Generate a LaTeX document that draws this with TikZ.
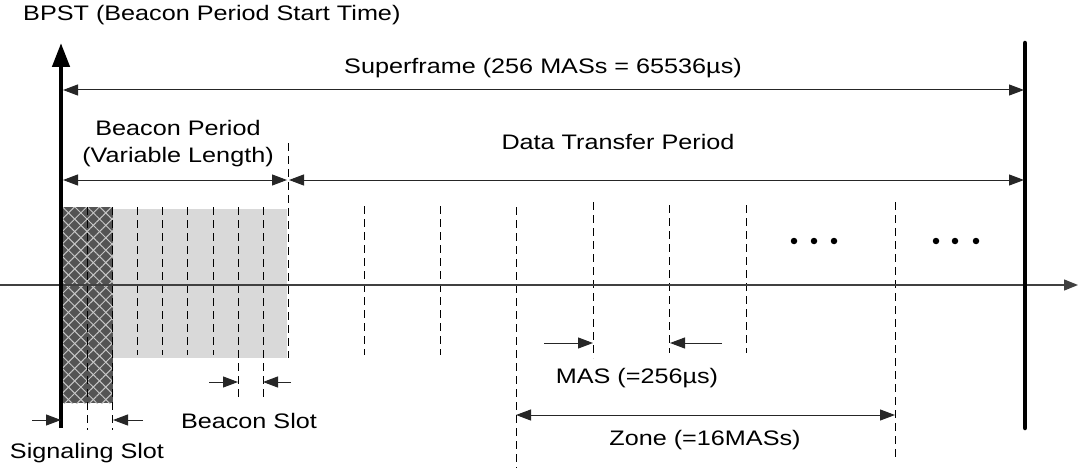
\documentclass[tikz,border=0pt]{standalone}
\usepackage{fontspec}
\setmainfont{Liberation Sans}[FakeStretch=1.2]
\usetikzlibrary{arrows.meta,patterns.meta}

\begin{document}
\begin{tikzpicture}[x=1pt,y=-1pt,
  lbl/.style={font=\fontsize{21}{24}\selectfont, inner sep=0pt},
  dimone/.style={line width=1pt, draw=black!85, -{Triangle[length=15pt,width=11pt]}},
  dimtwo/.style={line width=1pt, draw=black!85, {Triangle[length=15pt,width=11pt]}-{Triangle[length=15pt,width=11pt]}},
  slotline/.style={line width=1pt, dash pattern=on 8pt off 5pt},
  boldline/.style={line width=4.5pt, line cap=round},
  dot/.style={circle, fill=black, inner sep=0pt, minimum size=6.5pt},
]
\useasboundingbox (0,0) rectangle (1078,468);

% signaling slots (cross-hatched) and beacon slots (grey)
\fill[black!15] (113,209) rectangle (287,358);
\fill[black!67] (63,207) rectangle (113,403);
\fill[pattern={Lines[angle=45,distance=8.8pt,line width=1pt]}, pattern color=black!22]
  (63,207) rectangle (113,403);
\fill[pattern={Lines[angle=-45,distance=8.8pt,line width=1pt]}, pattern color=black!22]
  (63,207) rectangle (113,403);

% slot boundaries
\foreach \n/\x/\a/\b in {s1/87/207/430, s2/112/207/430,
    b1/137/207/355, b2/162/207/355, b3/187/207/355, b4/213/207/355,
    b5/238/207/400, b6/263/207/400, b7/288/143/358,
    m1/364/206/355, m2/440/206/355, m3/516/207/468, m4/593/202/358,
    m5/669/205/353, m6/746/205/353, m7/895/202/458} {
  \coordinate (\n top) at (\x,\a);
  \coordinate (\n bot) at (\x,\b);
  \draw[slotline] (\n top) -- (\n bot);
}

% time axis
\coordinate (axstart) at (0,285);
\coordinate (axend) at (1078,285);
\draw[line width=1.3pt, black!75, -{Triangle[length=14pt,width=11pt]}] (axstart) -- (axend);

% BPST marker and superframe end
\coordinate (bpstbot) at (61,428);
\coordinate (bpsttop) at (61,43);
\draw[line width=4.5pt, -{Triangle[length=24pt,width=17pt]}] (bpstbot) -- (bpsttop);
\coordinate (endtop) at (1025,43);
\coordinate (endbot) at (1025,428);
\draw[boldline] (endtop) -- (endbot);

% labels
\node[lbl, anchor=west] (bpst) at (23,15) {BPST (Beacon Period Start Time)};
\node[lbl] (sf) at (543,68) {Superframe (256 MASs = 65536µs)};
\node[lbl] (bp1) at (178,128) {Beacon Period};
\node[lbl] (bp2) at (178,157) {(Variable Length)};
\node[lbl] (dtp) at (618,142) {Data Transfer Period};
\node[lbl] (mas) at (637,378) {MAS (=256µs)};
\node[lbl] (zone) at (705,440) {Zone (=16MASs)};
\node[lbl] (bslot) at (249,421) {Beacon Slot};
\node[lbl] (sslot) at (87,453) {Signaling Slot};

% dimension arrows
\coordinate (sfL) at (63,90);   \coordinate (sfR) at (1024,90);
\draw[dimtwo] (sfL) -- (sfR);
\coordinate (bpL) at (63,180);  \coordinate (bpR) at (287,180);
\draw[dimtwo] (bpL) -- (bpR);
\coordinate (dtL) at (289,180); \coordinate (dtR) at (1024,180);
\draw[dimtwo] (dtL) -- (dtR);
\coordinate (zL) at (516,415);  \coordinate (zR) at (895,415);
\draw[dimtwo] (zL) -- (zR);

\coordinate (ss1) at (32,420);  \coordinate (ss1e) at (61,420);
\coordinate (ss2) at (143,420); \coordinate (ss2e) at (113,420);
\draw[dimone] (ss1) -- (ss1e);
\draw[dimone] (ss2) -- (ss2e);
\coordinate (bs1) at (209,382); \coordinate (bs1e) at (238,382);
\coordinate (bs2) at (291,382); \coordinate (bs2e) at (263,382);
\draw[dimone] (bs1) -- (bs1e);
\draw[dimone] (bs2) -- (bs2e);
\coordinate (ma1) at (544,343); \coordinate (ma1e) at (593,343);
\coordinate (ma2) at (722,343); \coordinate (ma2e) at (670,343);
\draw[dimone] (ma1) -- (ma1e);
\draw[dimone] (ma2) -- (ma2e);

% ellipses
\foreach \n/\x in {d1/794, d2/814, d3/834, d4/936, d5/955, d6/976}
  \node[dot] (\n) at (\x,241) {};
\end{tikzpicture}
\end{document}
